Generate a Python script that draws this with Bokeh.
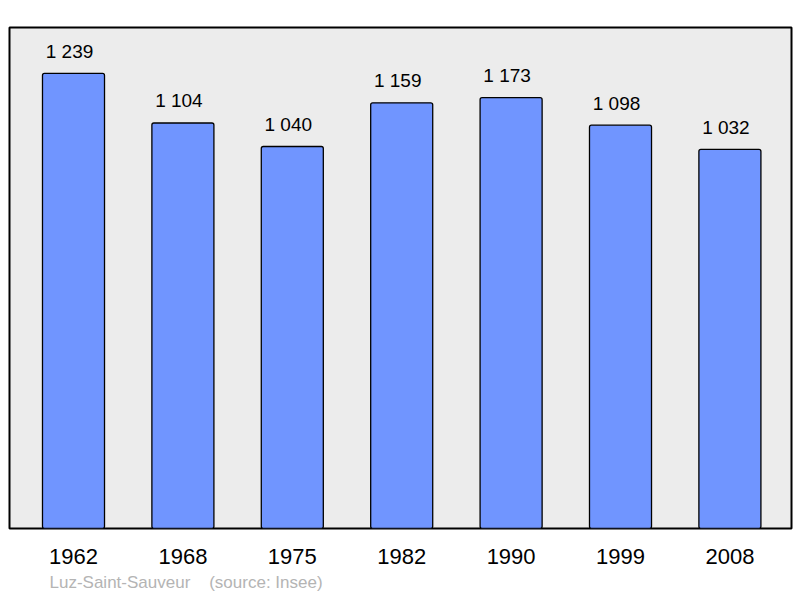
from bokeh.plotting import figure
from bokeh.models import ColumnDataSource, FixedTicker, Title, Range1d
from bokeh.core.properties import value
from bokeh.embed import file_html
from bokeh.resources import INLINE

years = ["1962", "1968", "1975", "1982", "1990", "1999", "2008"]
population = [1239, 1104, 1040, 1159, 1173, 1098, 1032]
value_labels = ["1 239", "1 104", "1 040", "1 159", "1 173", "1 098", "1 032"]
commune = "Luz-Saint-Sauveur"
source_text = "(source: Insee)"

idx = list(range(len(years)))
src = ColumnDataSource(dict(x=idx, top=population, lab=value_labels))

p = figure(width=800, height=598, output_backend="svg", toolbar_location=None,
           x_range=Range1d(-0.585, 6.563), y_range=Range1d(0, 1364),
           min_border_left=9, min_border_right=9, min_border_top=27, min_border_bottom=70)
p.background_fill_color = "#ececec"
p.border_fill_color = "white"
p.outline_line_color = "black"
p.outline_line_width = 2
p.grid.visible = False
p.yaxis.visible = False

p.vbar(x="x", top="top", bottom=0, width=0.567, source=src,
       fill_color="#7095ff", line_color="black", line_width=1.3, border_radius=2)
p.text(x="x", y="top", text="lab", source=src, text_align="center",
       text_baseline="alphabetic", x_offset=-4, y_offset=-22,
       text_font=value("Liberation Sans"),
       text_font_size="19px", text_color="black")

xa = p.xaxis[0]
xa.ticker = FixedTicker(ticks=idx)
xa.major_label_overrides = {i: y for i, y in zip(idx, years)}
xa.major_label_text_font = "Liberation Sans"
xa.major_label_text_font_size = "22px"
xa.major_label_text_color = "black"
xa.major_label_standoff = 14
xa.axis_line_color = None
xa.major_tick_line_color = None
xa.minor_tick_line_color = None

gap = "\u00a0" * 4
p.add_layout(Title(text=commune + gap + source_text, align="left", offset=40,
                   text_font="Liberation Sans", text_font_size="17px",
                   text_font_style="normal", text_color="#b4b4b4", standoff=9), "below")

open("out.html", "w").write(file_html(p, INLINE))
